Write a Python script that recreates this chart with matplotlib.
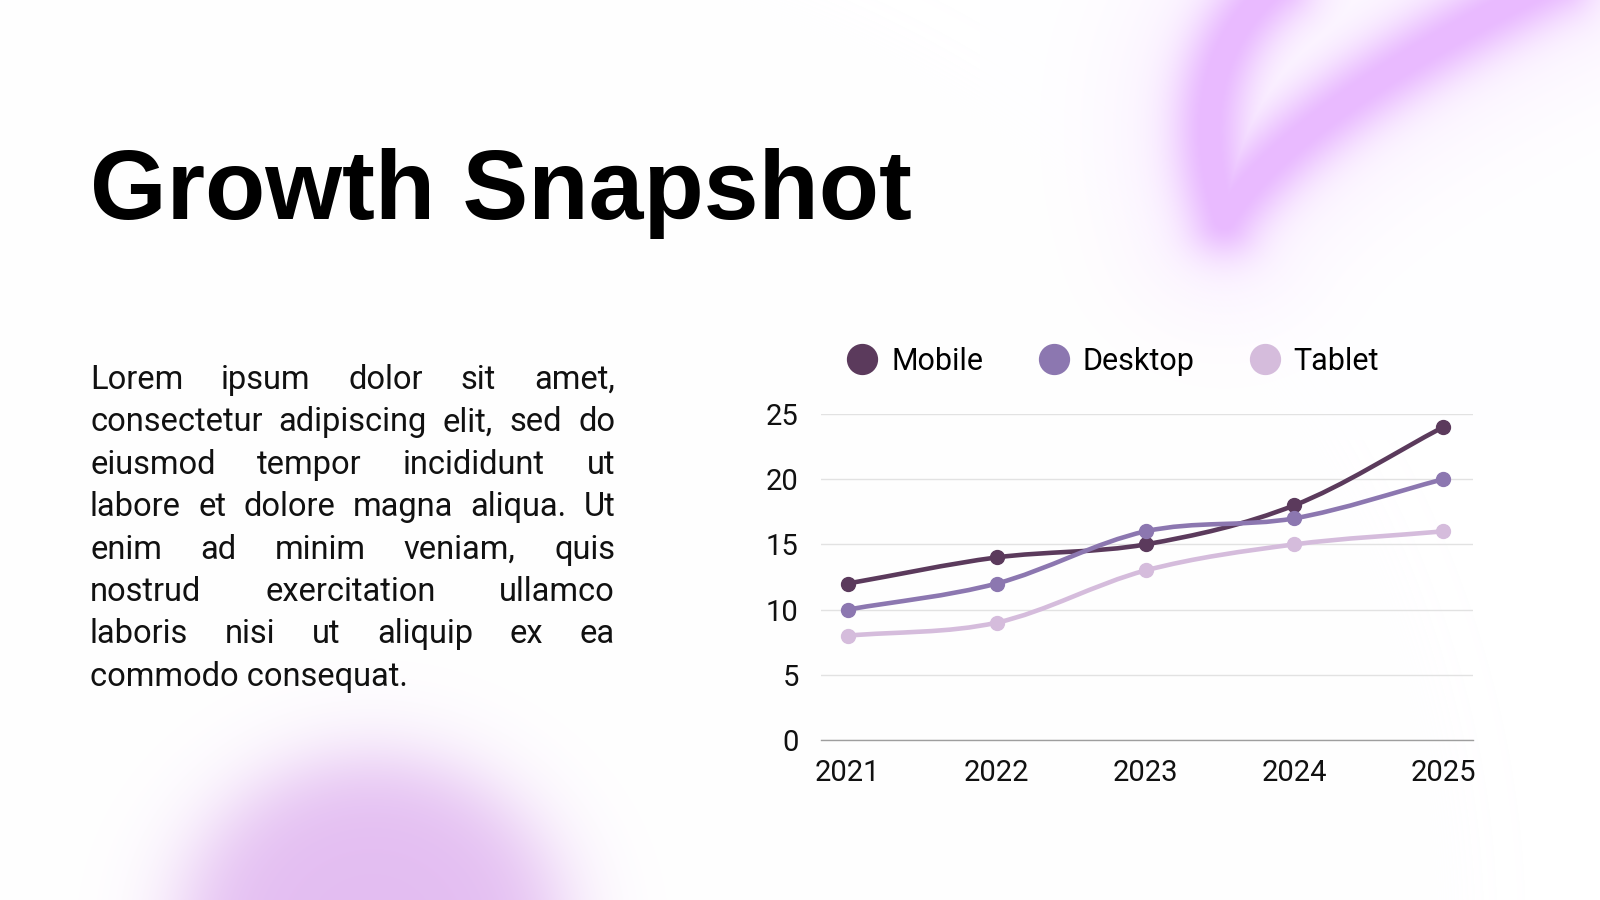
import numpy as np
import matplotlib
matplotlib.use('Agg')
import matplotlib.pyplot as plt
from matplotlib.path import Path
from matplotlib.patches import PathPatch
from matplotlib.lines import Line2D

W, H = 1600, 900

# Data
years = ['2021', '2022', '2023', '2024', '2025']
mobile = [12, 14, 15, 18, 24]
desktop = [10, 12, 16, 17, 20]
tablet = [8, 9, 13, 15, 16]
series_names = ['Mobile', 'Desktop', 'Tablet']
series_colors = ['#5b3a5c', '#8c77b0', '#d5bcdc']
y_ticks = [0, 5, 10, 15, 20, 25]

title = 'Growth Snapshot'
para_lines = [
    'Lorem ipsum dolor sit amet,',
    'consectetur adipiscing elit, sed do',
    'eiusmod tempor incididunt ut',
    'labore et dolore magna aliqua. Ut',
    'enim ad minim veniam, quis',
    'nostrud exercitation ullamco',
    'laboris nisi ut aliquip ex ea',
    'commodo consequat.',
]


def fx(x):
    return x / W


def fy(y):
    return 1 - y / H


def seg_dist(px, py, a, b):
    dx, dy = b[0] - a[0], b[1] - a[1]
    t = ((px - a[0]) * dx + (py - a[1]) * dy) / (dx * dx + dy * dy)
    t = np.clip(t, 0, 1)
    return np.hypot(px - a[0] - t * dx, py - a[1] - t * dy)


def bezier2(p0, p1, p2, n=40):
    t = np.linspace(0, 1, n)[:, None]
    p0, p1, p2 = map(np.asarray, (p0, p1, p2))
    return (1 - t) ** 2 * p0 + 2 * (1 - t) * t * p1 + t ** 2 * p2


def background():
    yy, xx = np.mgrid[0:H, 0:W].astype(float)
    img = np.ones((H, W, 3))

    # blob bottom left
    r = np.sqrt(((xx - 372) / 215) ** 2 + ((yy - 935) / 200) ** 2)
    a1 = 0.95 / (1 + np.exp((r - 0.88) / 0.12))
    c1 = np.array([226, 186, 241]) / 255
    img = img * (1 - a1[..., None]) + c1 * a1[..., None]

    # swoosh top right
    arms = [bezier2((1224, 218), (1178, 70), (1275, -15)),
            bezier2((1224, 218), (1290, 112), (1555, -20))]
    sub = (slice(0, 440), slice(980, W))
    px, py = xx[sub], yy[sub]
    d = np.full(px.shape, 1e9)
    for arm in arms:
        for i in range(len(arm) - 1):
            d = np.minimum(d, seg_dist(px, py, arm[i], arm[i + 1]))
    a2 = np.clip(0.85 * np.exp(-(d / 38) ** 2) + 0.2 * np.exp(-(d / 105) ** 2), 0, 1)
    c2 = np.array([233, 186, 255]) / 255
    part = img[sub]
    img[sub] = part * (1 - a2[..., None]) + c2 * a2[..., None]
    return img


def smooth_path(xs, ys):
    pts = np.column_stack([xs, ys]).astype(float)
    tang = np.zeros_like(pts)
    tang[1:-1] = (pts[2:] - pts[:-2]) / 2
    tang[0] = pts[1] - pts[0]
    tang[-1] = pts[-1] - pts[-2]
    verts = [pts[0]]
    codes = [Path.MOVETO]
    for i in range(len(pts) - 1):
        verts += [pts[i] + tang[i] / 3, pts[i + 1] - tang[i + 1] / 3, pts[i + 1]]
        codes += [Path.CURVE4] * 3
    return Path(verts, codes)


fig = plt.figure(figsize=(16, 9), dpi=100)
bg = fig.add_axes([0, 0, 1, 1], zorder=0)
bg.imshow(background(), extent=(0, W, H, 0), aspect='auto', interpolation='bilinear')
bg.set_xlim(0, W)
bg.set_ylim(H, 0)
bg.axis('off')

# Title
fig.text(fx(90), fy(219), title, fontsize=71, fontweight='bold',
         family='Liberation Sans', ha='left', va='baseline', color='black')

# Justified paragraph
renderer = fig.canvas.get_renderer()
para_font = dict(fontsize=23.5, family='Roboto', color='#111111')
x0, x1 = 90, 615
base0, lh = 389, 42.4


def text_width(s):
    t = fig.text(0, 0, s, **para_font)
    w = t.get_window_extent(renderer).width
    t.remove()
    return w


for i, line in enumerate(para_lines):
    y = base0 + i * lh
    if i == len(para_lines) - 1:
        fig.text(fx(x0), fy(y), line, ha='left', va='baseline', **para_font)
        continue
    words = line.split()
    widths = [text_width(w) for w in words]
    gap = (x1 - x0 - sum(widths)) / (len(words) - 1)
    x = x0
    for w, wd in zip(words, widths):
        fig.text(fx(x), fy(y), w, ha='left', va='baseline', **para_font)
        x += wd + gap

# Chart
ax = fig.add_axes([fx(821), 160 / H, 652 / W, 326 / H], zorder=2)
ax.patch.set_alpha(0)
xpos = np.arange(len(years))
for vals, name, color in zip([mobile, desktop, tablet], series_names, series_colors):
    ax.add_patch(PathPatch(smooth_path(xpos, vals), fill=False, edgecolor=color,
                           lw=3.3, capstyle='round', joinstyle='round', zorder=3))
    ax.plot(xpos, vals, 'o', ms=10, color=color, zorder=4)

ax.set_xlim(-0.18, 4.2)
ax.set_ylim(0, 25)
ax.set_yticks(y_ticks)
ax.set_xticks(xpos, years)
ax.grid(axis='y', color='#e2e2e2', lw=1)
ax.set_axisbelow(True)
for s in ['top', 'right', 'left']:
    ax.spines[s].set_visible(False)
ax.spines['bottom'].set_color('#9e9e9e')
ax.spines['bottom'].set_linewidth(1)
ax.tick_params(axis='both', length=0, labelsize=21, labelcolor='#111111')
ax.tick_params(axis='y', pad=16)
ax.tick_params(axis='x', pad=13.5)
for lab in ax.get_xticklabels() + ax.get_yticklabels():
    lab.set_family('Roboto')

handles = [Line2D([], [], ls='none', marker='o', ms=21.5, color=c) for c in series_colors]
ax.legend(handles, series_names, ncol=3, frameon=False, loc='center left',
          bbox_to_anchor=(fx(847), fy(361)), bbox_transform=fig.transFigure,
          prop={'family': 'Roboto', 'size': 22}, handlelength=1.0,
          handletextpad=0.45, columnspacing=1.8, borderpad=0, borderaxespad=0)

fig.savefig('out.png', dpi=100)
